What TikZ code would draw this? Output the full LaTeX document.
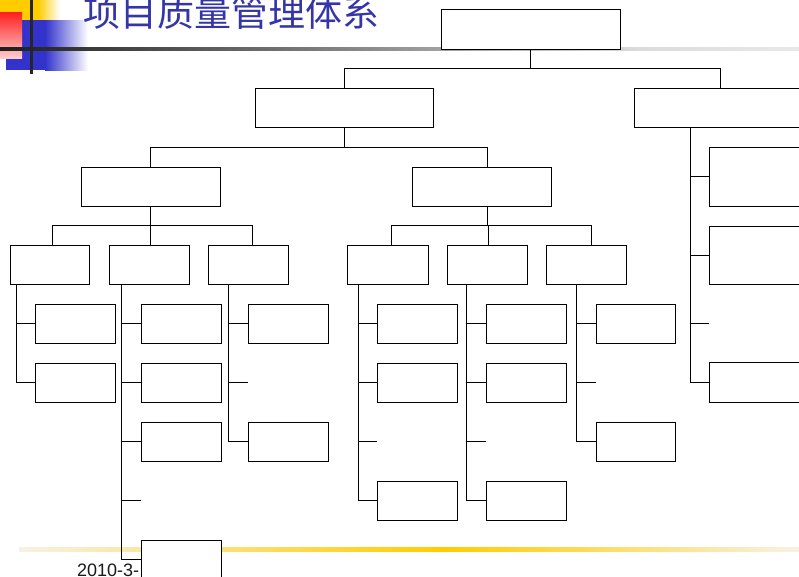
\documentclass[tikz,border=0pt]{standalone}
\usepackage{fontspec}
\setmainfont{Liberation Sans}
\newfontfamily\cjk{Noto Sans CJK SC}
\definecolor{titleblue}{RGB}{53,53,168}
\definecolor{ylw}{RGB}{255,204,0}
\definecolor{blu}{RGB}{51,51,204}
\definecolor{rd}{RGB}{255,30,30}
\definecolor{cream}{RGB}{248,241,228}
\newcommand{\bxn}[5]{\node[bx,minimum width={#4-#2},minimum height={#5-#3}] (#1) at (#2,#3) {};}
\begin{document}
\begin{tikzpicture}[x=1pt,y=-1pt,
  bx/.style={draw=black,fill=white,line width=0.9pt,inner sep=0pt,outer sep=0pt,anchor=north west},
  ln/.style={draw=black,line width=0.9pt}]
\useasboundingbox (0,0) rectangle (799,576);
\clip (0,0) rectangle (799,576);
\fill[white] (0,0) rectangle (799,576);
% decoration top-left
\fill[ylw] (0,0) rectangle (38,20);
\shade[left color=ylw,right color=white] (38,0) rectangle (60,20);
\fill[blu] (6,20) rectangle (45,70);
\shade[left color=blu,right color=white] (45,20) rectangle (88,70);
\shade[top color=rd,bottom color=rd!22] (0,12) rectangle (22,58);
\shade[left color=black!88,right color=black!14] (0,47.5) rectangle (640,50.5);
\shade[left color=black!14,right color=black!9] (640,47.5) rectangle (799,50.5);
\fill[black!85] (29.5,0) rectangle (32.5,74);
% bottom line
\shade[left color=cream,right color=ylw] (19,547.5) rectangle (444,551);
\shade[left color=ylw,right color=cream] (444,547.5) rectangle (799,551);
% title and date
\node[anchor=base west,inner sep=0pt,text=titleblue,font=\cjk\fontsize{37}{37}\selectfont] (title) at (83,26.5) {项目质量管理体系};
\node[anchor=base west,inner sep=0pt,text=black!90,font=\fontsize{18}{18}\selectfont] (date) at (77,576) {2010-3-};
% boxes
\bxn{top}{441}{9}{620}{49}
\bxn{A}{255}{88}{433}{127}
\bxn{B}{634}{88}{806}{127}
\bxn{C}{81}{167}{220}{206}
\bxn{D}{412}{167}{551}{206}
\bxn{C1}{10}{245}{89}{284}
\bxn{C2}{109}{245}{189}{284}
\bxn{C3}{208}{245}{288}{284}
\bxn{D1}{347}{245}{428}{284}
\bxn{D2}{447}{245}{527}{284}
\bxn{D3}{546}{245}{626}{284}
\bxn{c11}{35}{304}{115}{343}
\bxn{c12}{35}{363}{115}{402}
\bxn{c21}{141}{304}{221}{343}
\bxn{c22}{141}{363}{221}{402}
\bxn{c23}{141}{422}{221}{461}
\bxn{c25}{141}{540}{221}{579}
\bxn{c31}{248}{304}{328}{343}
\bxn{c33}{248}{422}{328}{461}
\bxn{d11}{377}{304}{457}{343}
\bxn{d12}{377}{363}{457}{402}
\bxn{d14}{377}{481}{457}{520}
\bxn{d21}{486}{304}{566}{343}
\bxn{d22}{486}{363}{566}{402}
\bxn{d24}{486}{481}{566}{520}
\bxn{d31}{596}{304}{675}{343}
\bxn{d33}{596}{422}{675}{461}
\bxn{b1}{709}{147}{820}{206}
\bxn{b2}{709}{226}{820}{284}
\bxn{b4}{709}{362}{820}{402}
% stub ends
\coordinate (s21) at (141,500);
\coordinate (s31) at (248,382);
\coordinate (s13) at (377,441);
\coordinate (s23) at (486,441);
\coordinate (s32) at (596,382);
\coordinate (sb3) at (709,323);
% connectors
\draw[ln] (A.north) -- ++(0,-20) -| (top.south);
\draw[ln] (B.north) -- ++(0,-20) -| (top.south);
\draw[ln] (C.north) -- ++(0,-20) -| (A.south);
\draw[ln] ([xshift=5.5]D.north) -- ++(0,-20) -| (A.south);
\draw[ln] ([xshift=2.5]C1.north) -- ++(0,-20) -| (C.south);
\draw[ln] ([xshift=1]C2.north) -- ++(0,-20) -| (C.south);
\draw[ln] ([xshift=4]C3.north) -- ++(0,-20) -| (C.south);
\draw[ln] ([xshift=3.5]D1.north) -- ++(0,-20) -| ([xshift=5.5]D.south);
\draw[ln] ([xshift=1]D2.north) -- ++(0,-20) -| ([xshift=5.5]D.south);
\draw[ln] ([xshift=5]D3.north) -- ++(0,-20) -| ([xshift=5.5]D.south);
\draw[ln] ([xshift=6]C1.south west) |- (c11.west);
\draw[ln] ([xshift=6]C1.south west) |- (c12.west);
\draw[ln] ([xshift=12]C2.south west) |- (c21.west);
\draw[ln] ([xshift=12]C2.south west) |- (c22.west);
\draw[ln] ([xshift=12]C2.south west) |- (c23.west);
\draw[ln] ([xshift=12]C2.south west) |- (s21);
\draw[ln] ([xshift=12]C2.south west) |- (c25.west);
\draw[ln] ([xshift=20]C3.south west) |- (c31.west);
\draw[ln] ([xshift=20]C3.south west) |- (s31);
\draw[ln] ([xshift=20]C3.south west) |- (c33.west);
\draw[ln] ([xshift=11]D1.south west) |- (d11.west);
\draw[ln] ([xshift=11]D1.south west) |- (d12.west);
\draw[ln] ([xshift=11]D1.south west) |- (s13);
\draw[ln] ([xshift=11]D1.south west) |- (d14.west);
\draw[ln] ([xshift=19]D2.south west) |- (d21.west);
\draw[ln] ([xshift=19]D2.south west) |- (d22.west);
\draw[ln] ([xshift=19]D2.south west) |- (s23);
\draw[ln] ([xshift=19]D2.south west) |- (d24.west);
\draw[ln] ([xshift=30]D3.south west) |- (d31.west);
\draw[ln] ([xshift=30]D3.south west) |- (s32);
\draw[ln] ([xshift=30]D3.south west) |- (d33.west);
\draw[ln] ([xshift=56]B.south west) |- (b1.west);
\draw[ln] ([xshift=56]B.south west) |- (b2.west);
\draw[ln] ([xshift=56]B.south west) |- (sb3);
\draw[ln] ([xshift=56]B.south west) |- (b4.west);
\end{tikzpicture}
\end{document}
